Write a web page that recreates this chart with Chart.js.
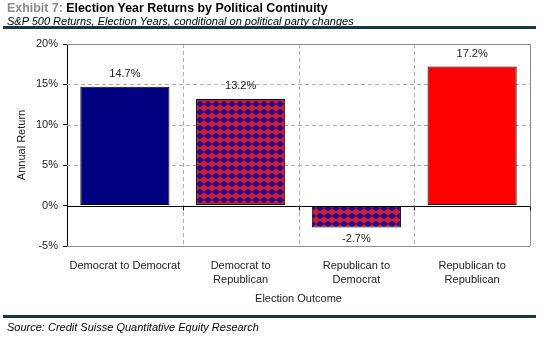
<!DOCTYPE html>
<html>
<head>
<meta charset="utf-8">
<script src="https://cdn.jsdelivr.net/npm/chart.js@4.4.1/dist/chart.umd.min.js"></script>
<style>
    body { margin: 0; background: #fff; font-family: "Liberation Sans", Arial, sans-serif; }
    #wrap { position: relative; width: 554px; height: 343px; overflow: hidden; }
    #chartBox { position: absolute; left: 0; top: 0; width: 554px; height: 343px; }
    .title { position: absolute; left: 7px; top: 0; font-size: 12.4px; font-weight: bold; line-height: 16px; color: #000; white-space: nowrap; }
    .title span { color: #8a8a8a; }
    .subtitle { position: absolute; left: 7px; top: 14px; font-size: 11px; font-style: italic; line-height: 14px; color: #000; white-space: nowrap; }
    .rule { position: absolute; left: 3px; width: 533px; height: 3px; background: #17384a; }
    .source { position: absolute; left: 7px; top: 320px; font-size: 11px; font-style: italic; line-height: 14px; color: #000; white-space: nowrap; }
</style>
</head>
<body>
<div id="wrap">
    <div id="chartBox"><canvas id="returnsChart" width="554" height="343"></canvas></div>
    <div class="title"><span>Exhibit 7:</span> Election Year Returns by Political Continuity</div>
    <div class="subtitle">S&amp;P 500 Returns, Election Years, conditional on political party changes</div>
    <div class="rule" style="top: 26px;"></div>
    <div class="rule" style="top: 315px;"></div>
    <div class="source">Source: Credit Suisse Quantitative Equity Research</div>
</div>
<script>
// Chart data
const categories = [
    "Democrat to Democrat",
    ["Democrat to", "Republican"],
    ["Republican to", "Democrat"],
    ["Republican to", "Republican"],
];
const returns = [14.7, 13.2, -2.7, 17.2];
const yTicks = [-5, 0, 5, 10, 15, 20];

// Navy background with red dot grid, like the checked bars
function makeDotPattern() {
    const tile = document.createElement("canvas");
    tile.width = 8;
    tile.height = 8;
    const c = tile.getContext("2d");
    c.fillStyle = "#220c84";
    c.fillRect(0, 0, 8, 8);
    c.fillStyle = "#d01c3c";
    c.fillRect(0, 3, 8, 2);
    c.fillRect(3.5, 0, 1, 8);
    c.beginPath();
    c.arc(4, 4, 3, 0, Math.PI * 2);
    c.fill();
    return document.getElementById("returnsChart").getContext("2d").createPattern(tile, "repeat");
}

const dots = makeDotPattern();
const barColors = ["#000080", dots, dots, "#ff0000"];

// Grid lines drawn by hand so each one gets its own style
const gridPlugin = {
    id: "customGrid",
    beforeDatasetsDraw(chart) {
        const { ctx, chartArea: a, scales } = chart;
        const x = scales.x, y = scales.y;
        ctx.save();
        ctx.lineWidth = 1;

        // vertical dashed lines between categories
        ctx.setLineDash([4, 3]);
        ctx.strokeStyle = "#b0b0b0";
        for (let i = 0; i < categories.length - 1; i++) {
            const px = Math.round((x.getPixelForValue(i) + x.getPixelForValue(i + 1)) / 2) + 0.5;
            ctx.beginPath();
            ctx.moveTo(px, a.top);
            ctx.lineTo(px, a.bottom);
            ctx.stroke();
        }

        // horizontal lines
        yTicks.forEach((v) => {
            const py = Math.round(y.getPixelForValue(v)) + 0.5;
            if (v === 0) return;
            if (v === yTicks[0] || v === yTicks[yTicks.length - 1]) {
                ctx.setLineDash([]);
                ctx.strokeStyle = "#8c8c8c";
            } else {
                ctx.setLineDash([4, 3]);
                ctx.strokeStyle = "#b0b0b0";
            }
            ctx.beginPath();
            ctx.moveTo(a.left, py);
            ctx.lineTo(a.right, py);
            ctx.stroke();
        });

        // right border
        ctx.setLineDash([]);
        ctx.strokeStyle = "#8c8c8c";
        ctx.beginPath();
        ctx.moveTo(Math.round(a.right) + 0.5, a.top);
        ctx.lineTo(Math.round(a.right) + 0.5, a.bottom);
        ctx.stroke();
        ctx.restore();
    },
    afterDatasetsDraw(chart) {
        const { ctx, chartArea: a, scales } = chart;
        const x = scales.x, y = scales.y;
        const zy = Math.round(y.getPixelForValue(0)) + 0.5;
        ctx.save();
        ctx.strokeStyle = "#000";
        ctx.lineWidth = 1;
        ctx.beginPath();
        ctx.moveTo(a.left, zy);
        ctx.lineTo(a.right, zy);
        // small tick marks on the zero line
        for (let i = 0; i <= categories.length; i++) {
            const px = Math.round(x.getPixelForValue(i - 0.5)) + 0.5;
            ctx.moveTo(px, zy);
            ctx.lineTo(px, zy + 4);
        }
        ctx.stroke();

        // value labels
        ctx.fillStyle = "#222";
        ctx.font = "11px 'Liberation Sans', Arial, sans-serif";
        ctx.textAlign = "center";
        ctx.textBaseline = "middle";
        const meta = chart.getDatasetMeta(0);
        meta.data.forEach((bar, i) => {
            const v = returns[i];
            const ly = v >= 0 ? bar.y - 13 : bar.y + 12;
            ctx.fillText(v.toFixed(1) + "%", bar.x, ly);
        });
        ctx.restore();
    },
};

new Chart(document.getElementById("returnsChart"), {
    type: "bar",
    data: {
        labels: categories,
        datasets: [
            {
                data: returns,
                backgroundColor: barColors,
                borderColor: "#000",
                borderWidth: 1,
                borderSkipped: false,
                categoryPercentage: 1,
                barPercentage: 0.77,
            },
        ],
    },
    plugins: [gridPlugin],
    options: {
        responsive: false,
        animation: false,
        devicePixelRatio: 1,
        layout: {
            padding: { top: 44, right: 24, left: 0, bottom: 0 },
        },
        plugins: {
            legend: { display: false },
            tooltip: { enabled: false },
        },
        scales: {
            x: {
                grid: { display: false },
                border: { display: false },
                ticks: {
                    color: "#222",
                    padding: 5,
                    maxRotation: 0,
                    autoSkip: false,
                    font: { family: "'Liberation Sans', Arial, sans-serif", size: 11, lineHeight: 1.3 },
                },
                title: {
                    display: true,
                    text: "Election Outcome",
                    color: "#222",
                    font: { family: "'Liberation Sans', Arial, sans-serif", size: 11 },
                    padding: { top: 0, bottom: 37 },
                },
                afterFit: (scale) => {
                    scale.height = 97;
                },
            },
            y: {
                min: -5,
                max: 20,
                afterBuildTicks: (scale) => {
                    scale.ticks = yTicks.map((v) => ({ value: v }));
                },
                grid: {
                    drawOnChartArea: false,
                    drawTicks: true,
                    tickLength: 4,
                    tickColor: "#000",
                    color: "#000",
                },
                border: { display: true, color: "#000", width: 1 },
                ticks: {
                    color: "#222",
                    padding: 5,
                    font: { family: "'Liberation Sans', Arial, sans-serif", size: 11 },
                    callback: (v) => v + "%",
                },
                title: {
                    display: true,
                    text: "Annual Return",
                    color: "#222",
                    font: { family: "'Liberation Sans', Arial, sans-serif", size: 11 },
                    padding: { top: 15, bottom: 0 },
                },
                afterFit: (scale) => {
                    scale.width = 67;
                },
            },
        },
    },
});
</script>
</body>
</html>
